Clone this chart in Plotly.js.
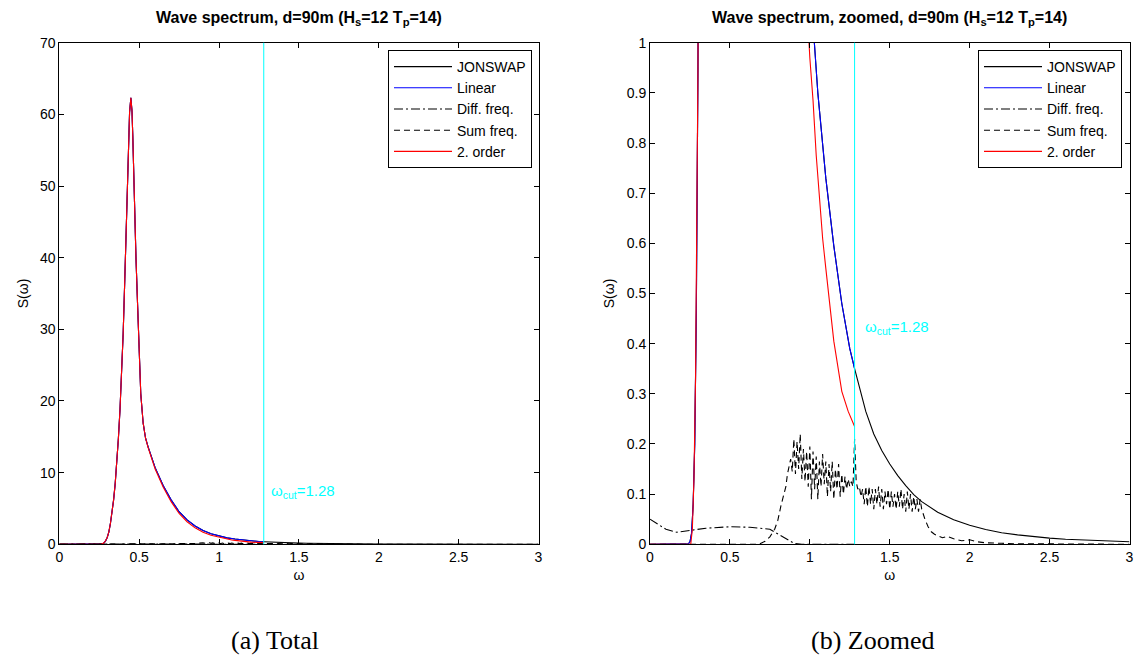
<!DOCTYPE html>
<html>
<head>
<meta charset="utf-8">
<script src="https://cdn.plot.ly/plotly-3.0.1.min.js"></script>
<style>html,body{margin:0;padding:0;background:#fff;}#chart{width:1137px;height:661px;}</style>
</head>
<body>
<div id="chart"></div>
<script>
// ---------- data ----------
const omegaCut = 1.28;

const omegaJonswap = [0, 0.1, 0.2, 0.23, 0.24, 0.25, 0.26, 0.27, 0.28, 0.29, 0.30, 0.31, 0.32, 0.33, 0.34, 0.35, 0.36, 0.37, 0.38, 0.39, 0.40, 0.41, 0.42, 0.43, 0.44, 0.448, 0.455, 0.46, 0.47, 0.48, 0.49, 0.50, 0.51, 0.525, 0.54, 0.556, 0.58, 0.60, 0.65, 0.70, 0.75, 0.80, 0.85, 0.90, 0.95, 1.00, 1.05, 1.10, 1.15, 1.20, 1.25, 1.28, 1.30, 1.32, 1.35, 1.40, 1.45, 1.50, 1.55, 1.60, 1.65, 1.70, 1.75, 1.80, 1.90, 2.00, 2.10, 2.20, 2.30, 2.40, 2.50, 2.60, 2.80, 3.00];
const sJonswap = [0, 0, 0, 0, 0.001, 0.005, 0.022, 0.08, 0.2, 0.47, 0.95, 1.7, 2.9, 4.3, 6.2, 8.5, 11.3, 14.8, 18.8, 23.5, 29.5, 37, 46, 54.5, 60.3, 62.3, 60.5, 57, 47.5, 40, 33.5, 26.2, 21, 16.9, 14.8, 13.6, 12.0, 10.7, 8.2, 6.2, 4.55, 3.4, 2.55, 1.92, 1.47, 1.13, 0.90, 0.73, 0.595, 0.48, 0.39, 0.35, 0.325, 0.30, 0.265, 0.22, 0.187, 0.16, 0.137, 0.117, 0.099, 0.085, 0.074, 0.064, 0.049, 0.038, 0.0295, 0.023, 0.0187, 0.0152, 0.0123, 0.0102, 0.007, 0.005];

const omegaLinear = [0, 0.1, 0.2, 0.23, 0.24, 0.25, 0.26, 0.27, 0.28, 0.29, 0.30, 0.31, 0.32, 0.33, 0.34, 0.35, 0.36, 0.37, 0.38, 0.39, 0.40, 0.41, 0.42, 0.43, 0.44, 0.448, 0.455, 0.46, 0.47, 0.48, 0.49, 0.50, 0.51, 0.525, 0.54, 0.556, 0.58, 0.60, 0.65, 0.70, 0.75, 0.80, 0.85, 0.90, 0.95, 1.00, 1.05, 1.10, 1.15, 1.20, 1.25, 1.28];
const sLinear = [0, 0, 0, 0, 0.001, 0.005, 0.022, 0.08, 0.2, 0.47, 0.95, 1.7, 2.9, 4.3, 6.2, 8.5, 11.3, 14.8, 18.8, 23.5, 29.5, 37, 46, 54.5, 60.3, 62.3, 60.5, 57, 47.5, 40, 33.5, 26.2, 21, 16.9, 14.8, 13.6, 12.0, 10.7, 8.2, 6.2, 4.55, 3.4, 2.55, 1.92, 1.47, 1.13, 0.90, 0.73, 0.595, 0.48, 0.39, 0.35];

const omegaDiff = [0, 0.05, 0.1, 0.167, 0.25, 0.35, 0.5, 0.625, 0.75, 0.8, 0.85, 0.9, 0.95, 1.0, 1.1, 1.2, 1.28];
const sDiff = [0.05, 0.04, 0.03, 0.024, 0.027, 0.032, 0.035, 0.034, 0.03, 0.021, 0.011, 0.002, 0, 0, 0, 0, 0];

const omegaSum = [0, 0.3, 0.6, 0.68, 0.72, 0.75, 0.78, 0.80, 0.82, 0.84, 0.85, 0.86,
  0.87, 0.88, 0.89, 0.90, 0.91, 0.92, 0.93, 0.94, 0.95, 0.96, 0.97, 0.98, 0.99,
  1.00, 1.01, 1.02, 1.03, 1.04, 1.05, 1.06, 1.07, 1.08, 1.09, 1.10, 1.11, 1.12, 1.13, 1.14, 1.15, 1.16, 1.17, 1.18, 1.19,
  1.20, 1.21, 1.22, 1.23, 1.24, 1.25, 1.26, 1.27, 1.28, 1.29, 1.30, 1.31, 1.32, 1.33, 1.34, 1.35, 1.36, 1.37, 1.38, 1.39,
  1.40, 1.41, 1.42, 1.43, 1.44, 1.45, 1.46, 1.47, 1.48, 1.49, 1.50, 1.51, 1.52, 1.53, 1.54, 1.55, 1.56, 1.57, 1.58, 1.59,
  1.60, 1.61, 1.62, 1.63, 1.64, 1.65, 1.66, 1.67, 1.68, 1.69, 1.70, 1.72, 1.74, 1.76, 1.78, 1.80, 1.83, 1.86, 1.90, 1.95,
  2.00, 2.05, 2.10, 2.20, 2.30, 2.50, 2.70, 3.00];
const sSum = [0, 0, 0, 0, 0.006, 0.015, 0.03, 0.048, 0.078, 0.1, 0.115, 0.14,
  0.155, 0.17, 0.145, 0.21, 0.14, 0.205, 0.15, 0.22, 0.13, 0.19, 0.125, 0.185, 0.115,
  0.195, 0.09, 0.185, 0.11, 0.175, 0.09, 0.165, 0.115, 0.18, 0.12, 0.165, 0.095, 0.16, 0.105, 0.165, 0.09, 0.15, 0.11, 0.16, 0.095,
  0.14, 0.10, 0.135, 0.11, 0.13, 0.115, 0.125, 0.115, 0.21, 0.125, 0.11, 0.115, 0.095, 0.11, 0.08, 0.115, 0.075, 0.115, 0.08, 0.11,
  0.07, 0.11, 0.08, 0.115, 0.075, 0.11, 0.07, 0.105, 0.08, 0.11, 0.07, 0.105, 0.075, 0.10, 0.07, 0.105, 0.075, 0.11, 0.07, 0.10,
  0.065, 0.105, 0.07, 0.10, 0.065, 0.095, 0.07, 0.09, 0.065, 0.09, 0.07, 0.05, 0.035, 0.025, 0.02, 0.017, 0.013, 0.016, 0.011, 0.007,
  0.009, 0.005, 0.003, 0.002, 0.001, 0.0008, 0.0004, 0];

const omegaSecond = [0, 0.1, 0.2, 0.25, 0.255, 0.265, 0.275, 0.285, 0.30, 0.31, 0.32, 0.33, 0.34, 0.35, 0.36, 0.37, 0.38, 0.39, 0.40, 0.41, 0.42, 0.43, 0.44, 0.448, 0.455, 0.46, 0.47, 0.48, 0.49, 0.50, 0.51, 0.525, 0.54, 0.556, 0.58, 0.60, 0.65, 0.70, 0.75, 0.80, 0.85, 0.90, 0.95, 1.00, 1.02, 1.04, 1.06, 1.08, 1.10, 1.12, 1.15, 1.20, 1.24, 1.28];
const sSecond = [0, 0, 0, 0, 0, 0.03, 0.13, 0.33, 0.95, 1.7, 2.9, 4.3, 6.2, 8.5, 11.3, 14.8, 18.8, 23.5, 29.5, 37, 46, 54.5, 60.3, 62.3, 60.5, 57, 47.5, 40, 33.5, 26.2, 21, 16.9, 14.8, 13.5, 11.9, 10.5, 8.0, 5.95, 4.3, 3.15, 2.3, 1.68, 1.26, 0.97, 0.885, 0.775, 0.69, 0.61, 0.55, 0.49, 0.405, 0.305, 0.265, 0.235];

const seriesNames = ['JONSWAP', 'Linear', 'Diff. freq.', 'Sum freq.', '2. order'];
const panelTitles = ['Wave spectrum, d=90m (H<sub>s</sub>=12 T<sub>p</sub>=14)', 'Wave spectrum, zoomed, d=90m (H<sub>s</sub>=12 T<sub>p</sub>=14)'];
const captions = ['(a) Total', '(b) Zoomed'];

// ---------- styling ----------
const FONT = 'Liberation Sans, Arial, sans-serif';
const styles = [
  {color: '#000000', dash: 'solid'},
  {color: '#0000ff', dash: 'solid'},
  {color: '#000000', dash: '9px,3px,2px,3px'},
  {color: '#000000', dash: '6px,4px'},
  {color: '#ff0000', dash: 'solid'}
];
const xs = [omegaJonswap, omegaLinear, omegaDiff, omegaSum, omegaSecond];
const ys = [sJonswap, sLinear, sDiff, sSum, sSecond];

const traces = [];
[['x', 'y', 'legend'], ['x2', 'y2', 'legend2']].forEach(([xa, ya, lg]) => {
  for (let i = 0; i < 5; i++) {
    traces.push({
      type: 'scatter', mode: 'lines', x: xs[i], y: ys[i], name: seriesNames[i],
      xaxis: xa, yaxis: ya, legend: lg,
      line: {color: styles[i].color, dash: styles[i].dash, width: 1.1},
      hoverinfo: 'skip'
    });
  }
});

function axisBase() {
  return {
    showline: true, linecolor: '#000', linewidth: 1, mirror: 'ticks',
    ticks: 'inside', ticklen: 5, tickcolor: '#000', tickwidth: 1,
    showgrid: false, zeroline: false,
    tickfont: {family: FONT, size: 14, color: '#000'}
  };
}
const yDom = [1 - 544.3 / 661, 1 - 42.7 / 661];
const xDom1 = [59.3 / 1137, 538.5 / 1137];
const xDom2 = [650 / 1137, 1129.5 / 1137];

const legendBase = {
  xanchor: 'right', yanchor: 'top', bgcolor: '#fff', bordercolor: '#000', borderwidth: 1,
  font: {family: FONT, size: 14, color: '#000'}, tracegroupgap: 0, itemwidth: 58,
  itemclick: false, itemdoubleclick: false
};

const layout = {
  width: 1137, height: 661,
  margin: {l: 0, r: 0, t: 0, b: 0},
  paper_bgcolor: '#fff', plot_bgcolor: '#fff',
  showlegend: true,
  xaxis: Object.assign(axisBase(), {domain: xDom1, range: [0, 3], dtick: 0.5, anchor: 'y',
    title: {text: 'ω', font: {family: FONT, size: 14, color: '#000'}, standoff: 6}}),
  yaxis: Object.assign(axisBase(), {domain: yDom, range: [0, 70], dtick: 10, anchor: 'x',
    title: {text: 'S(ω)', font: {family: FONT, size: 14, color: '#000'}, standoff: 8}}),
  xaxis2: Object.assign(axisBase(), {domain: xDom2, range: [0, 3], dtick: 0.5, anchor: 'y2',
    title: {text: 'ω', font: {family: FONT, size: 14, color: '#000'}, standoff: 6}}),
  yaxis2: Object.assign(axisBase(), {domain: yDom, range: [0, 1], dtick: 0.1, anchor: 'x2',
    title: {text: 'S(ω)', font: {family: FONT, size: 14, color: '#000'}, standoff: 8}}),
  legend: Object.assign({}, legendBase, {x: 532 / 1137, y: 1 - 50 / 661}),
  legend2: Object.assign({}, legendBase, {x: 1122 / 1137, y: 1 - 50 / 661}),
  shapes: [
    {type: 'line', xref: 'x', yref: 'y domain', x0: omegaCut, x1: omegaCut, y0: 0, y1: 1, line: {color: '#00ffff', width: 1}},
    {type: 'line', xref: 'x2', yref: 'y2 domain', x0: omegaCut, x1: omegaCut, y0: 0, y1: 1, line: {color: '#00ffff', width: 1}}
  ],
  annotations: [
    {xref: 'paper', yref: 'paper', x: (xDom1[0] + xDom1[1]) / 2, y: 1 - 18 / 661, xanchor: 'center', yanchor: 'middle',
      text: '<b>' + panelTitles[0] + '</b>', showarrow: false, font: {family: FONT, size: 16, color: '#000'}},
    {xref: 'paper', yref: 'paper', x: (xDom2[0] + xDom2[1]) / 2, y: 1 - 18 / 661, xanchor: 'center', yanchor: 'middle',
      text: '<b>' + panelTitles[1] + '</b>', showarrow: false, font: {family: FONT, size: 16, color: '#000'}},
    {xref: 'x', yref: 'y', x: 1.31, y: 7.3, xanchor: 'left', yanchor: 'middle', showarrow: false,
      text: 'ω<sub>cut</sub>=' + omegaCut, font: {family: FONT, size: 15, color: '#00ffff'}},
    {xref: 'x2', yref: 'y2', x: 1.33, y: 0.433, xanchor: 'left', yanchor: 'middle', showarrow: false,
      text: 'ω<sub>cut</sub>=' + omegaCut, font: {family: FONT, size: 15, color: '#00ffff'}},
    {xref: 'paper', yref: 'paper', x: 275 / 1137, y: 1 - 640 / 661, xanchor: 'center', yanchor: 'middle', showarrow: false,
      text: captions[0], font: {family: 'Liberation Serif, DejaVu Serif, serif', size: 26, color: '#000'}},
    {xref: 'paper', yref: 'paper', x: 873 / 1137, y: 1 - 640 / 661, xanchor: 'center', yanchor: 'middle', showarrow: false,
      text: captions[1], font: {family: 'Liberation Serif, DejaVu Serif, serif', size: 26, color: '#000'}}
  ]
};

Plotly.newPlot('chart', traces, layout, {staticPlot: true, displayModeBar: false});
</script>
</body>
</html>
